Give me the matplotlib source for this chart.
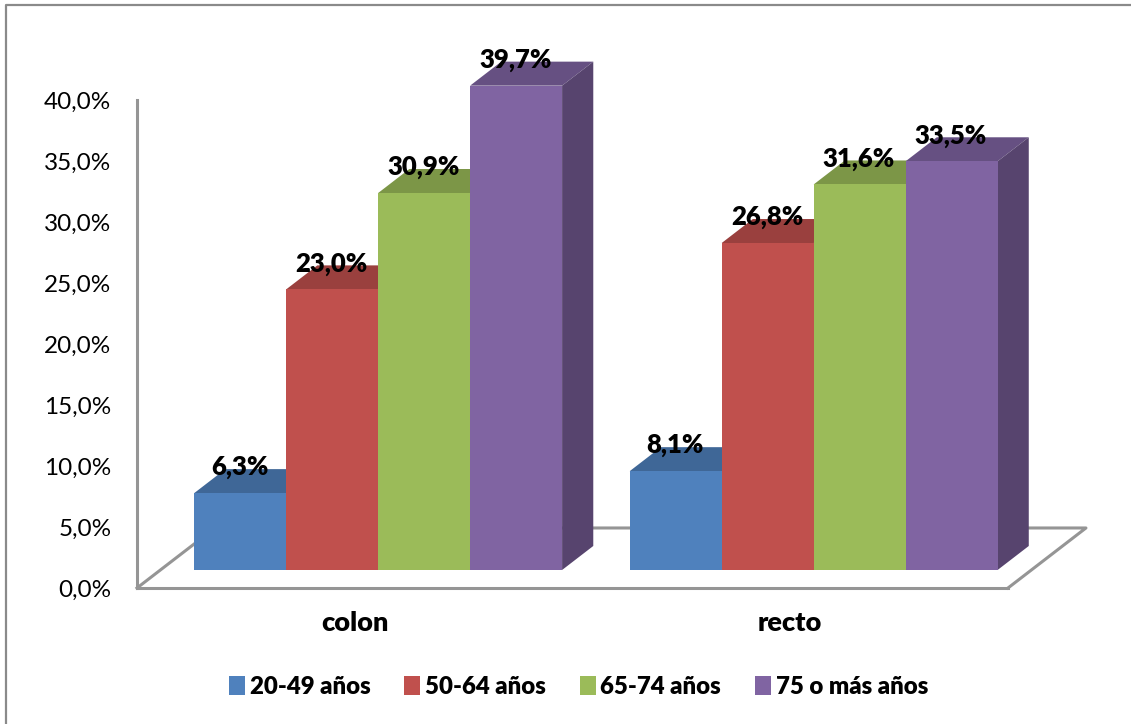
# Cancer cases by age group and site, drawn as pseudo-3D grouped columns

import matplotlib.pyplot as plt
from matplotlib.colors import to_rgb
from matplotlib.lines import Line2D
from matplotlib.patches import Patch, Polygon
from matplotlib.ticker import FuncFormatter


# ------ Data ------

sites = ["colon", "recto"]
age_groups = ["20-49 años", "50-64 años", "65-74 años", "75 o más años"]
colon_values = [6.3, 23.0, 30.9, 39.7]
recto_values = [8.1, 26.8, 31.6, 33.5]
colors = ["#4F81BD", "#C0504D", "#9BBB59", "#8064A2"]


# ------ Style ------

GRAY = "#959595"
BAR_W = 0.2112
DEPTH_X = 0.179  # floor depth, in category units
DEPTH_Y = 4.92   # floor depth, in percent units
FRONT = 0.3      # bars start this far back on the floor
BACK = 0.7       # and stop here

plt.rcParams["font.family"] = ["Lato", "DejaVu Sans"]


def shade(color, factor):
    r, g, b = to_rgb(color)
    return (r * factor, g * factor, b * factor)


def bar_3d(ax, x, value, color):
    """Column with a top and a right face, sheared back along the floor"""
    x0 = x + FRONT * DEPTH_X
    x1 = x0 + BAR_W
    y0 = FRONT * DEPTH_Y
    y1 = y0 + value
    dx = (BACK - FRONT) * DEPTH_X
    dy = (BACK - FRONT) * DEPTH_Y

    top = [(x0, y1), (x1, y1), (x1 + dx, y1 + dy), (x0 + dx, y1 + dy)]
    side = [(x1, y0), (x1 + dx, y0 + dy), (x1 + dx, y1 + dy), (x1, y1)]
    front = [(x0, y0), (x1, y0), (x1, y1), (x0, y1)]

    ax.add_patch(Polygon(top, facecolor=shade(color, 0.8), edgecolor="none", clip_on=False, zorder=3))
    ax.add_patch(Polygon(side, facecolor=shade(color, 0.68), edgecolor="none", clip_on=False, zorder=3))
    ax.add_patch(Polygon(front, facecolor=color, edgecolor="none", clip_on=False, zorder=3))

    ax.annotate(f"{value:.1f}%".replace(".", ","), xy=((x0 + x1) / 2, y1), xytext=(-0.5, 18.5),
                textcoords="offset points", ha="center", va="center", annotation_clip=False,
                fontsize=18.5, fontweight="heavy", color="black", zorder=6)


# ------ Figure ------

fig = plt.figure(figsize=(11.31, 7.24), dpi=100)
ax = fig.add_axes([137 / 1131, 1 - 588 / 724, 871 / 1131, 488 / 724])

ax.set_xlim(-0.5, 1.5)
ax.set_ylim(0, 40)

for side_name in ["top", "right"]:
    ax.spines[side_name].set_visible(False)
for side_name in ["left", "bottom"]:
    ax.spines[side_name].set_color(GRAY)
    ax.spines[side_name].set_linewidth(2.2)

ax.set_yticks(range(0, 45, 5))
ax.yaxis.set_major_formatter(FuncFormatter(lambda v, _: f"{v:.1f}%".replace(".", ",")))
ax.set_xticks(range(len(sites)), sites)
ax.tick_params(axis="y", length=0, pad=18.5, labelsize=17.5)
ax.tick_params(axis="x", length=0, pad=16.5, labelsize=19.5)
for label in ax.get_xticklabels():
    label.set_fontweight("heavy")

# floor outline
ax.plot([-0.5, -0.5 + DEPTH_X, 1.5 + DEPTH_X, 1.5], [0, DEPTH_Y, DEPTH_Y, 0],
        color=GRAY, linewidth=2.2, clip_on=False, zorder=2)

for i, values in enumerate([colon_values, recto_values]):
    start = i - 2 * BAR_W
    for j, value in enumerate(values):
        bar_3d(ax, start + j * BAR_W, value, colors[j])

handles = [Patch(facecolor=c, edgecolor="none") for c in colors]
ax.legend(handles, age_groups, loc="center", bbox_to_anchor=(578.5 / 1131, 1 - 687 / 724),
          bbox_transform=fig.transFigure, ncol=4, frameon=False, handlelength=0.67,
          handleheight=0.8, handletextpad=0.2, columnspacing=1.4,
          prop={"size": 17.3, "weight": "heavy"})

# border of the chart area, open on the right and bottom
fig.add_artist(Line2D([6 / 1131, 6 / 1131, 1], [0, 1 - 5 / 724, 1 - 5 / 724],
                      color="#8A8A8A", linewidth=1.6))

fig.savefig("out.png", dpi=100)
